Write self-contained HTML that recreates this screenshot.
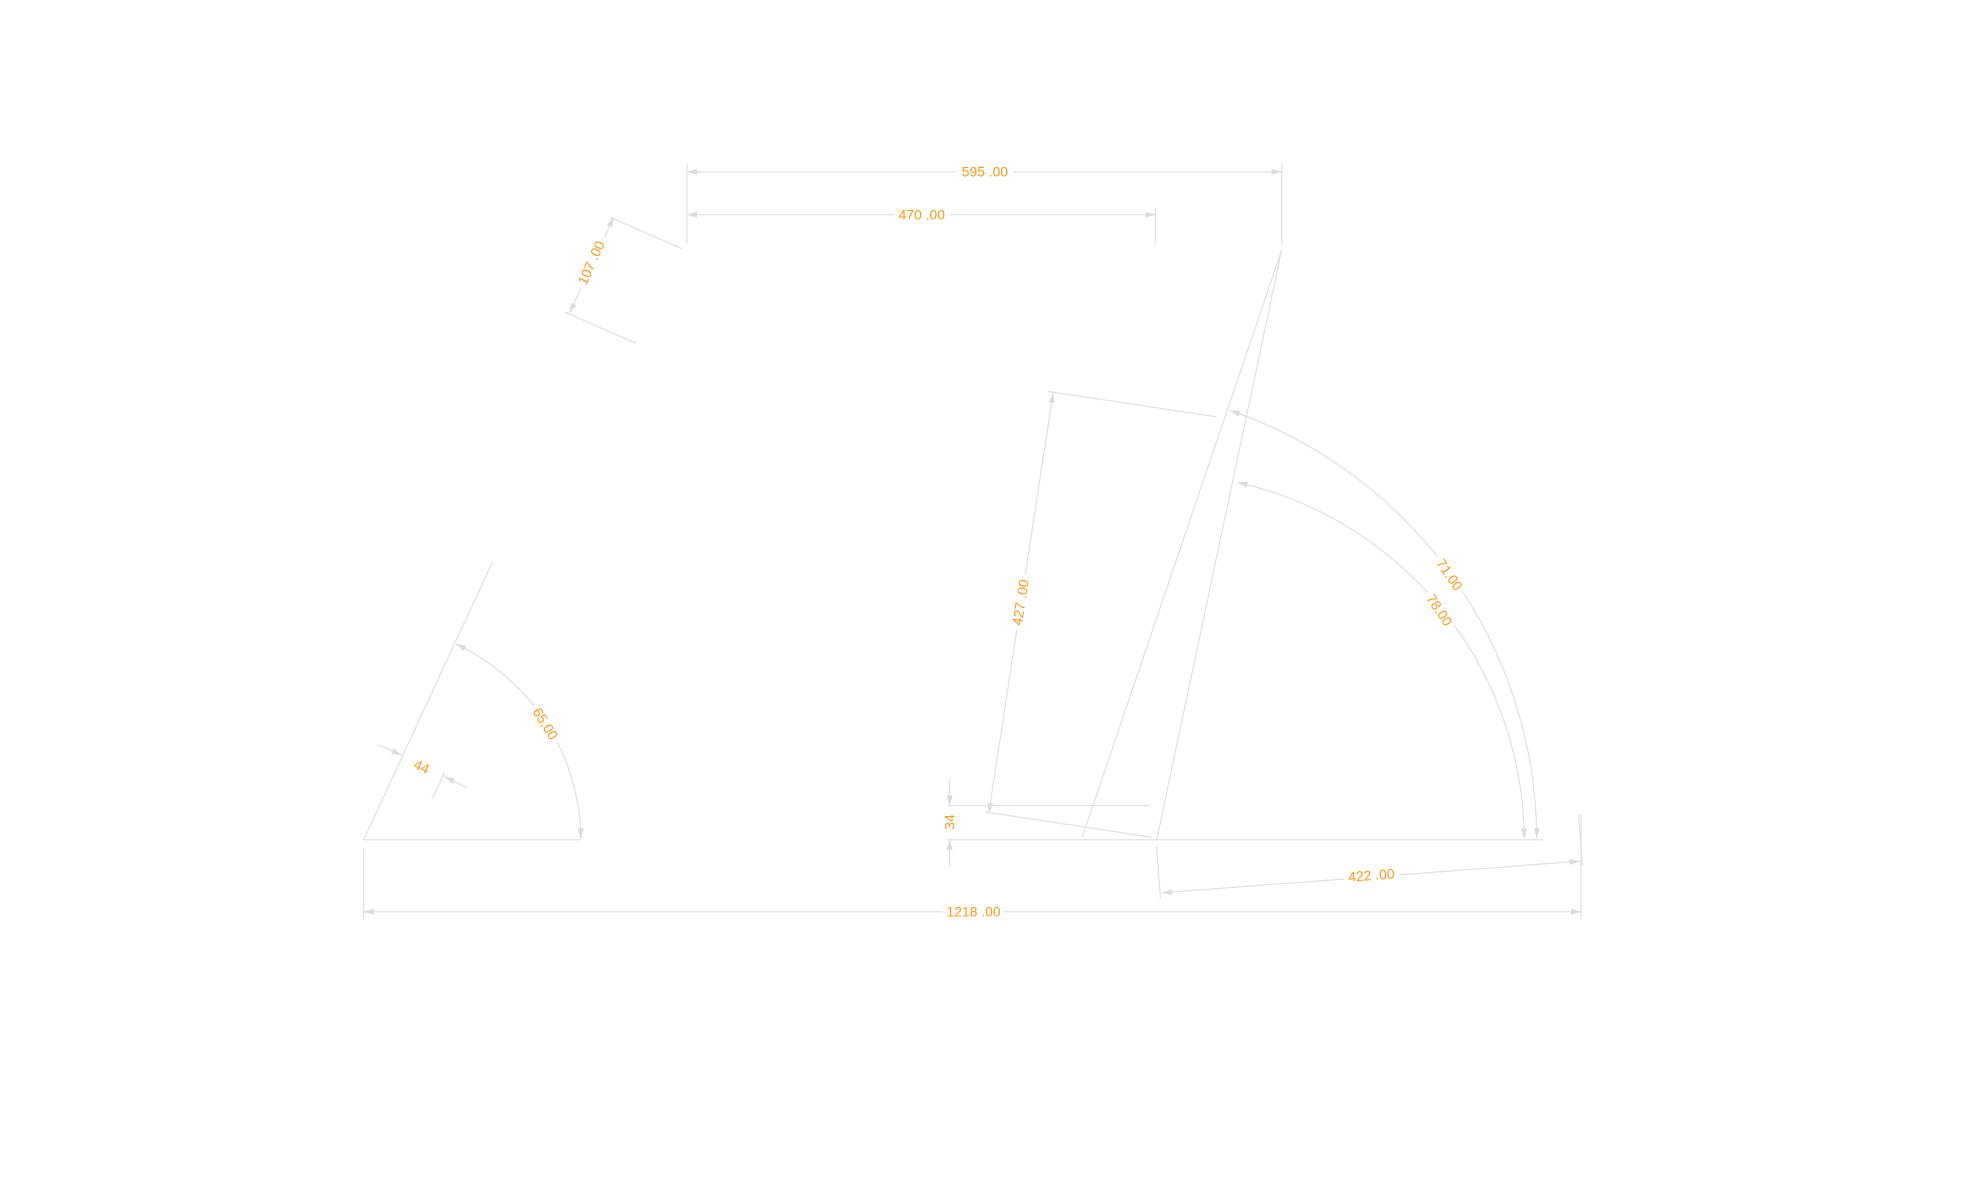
<!DOCTYPE html>
<html><head><meta charset="utf-8"><style>
html,body{margin:0;padding:0;background:#fff;width:1980px;height:1200px;overflow:hidden}
svg{display:block}
text{font-family:"Liberation Sans",sans-serif;font-size:11px;fill:#ff9a1a;text-anchor:middle;dominant-baseline:central}
.l{stroke:#e2e2e2;stroke-width:1;fill:none}
.bg{fill:#fff}
</style></head><body>
<svg width="1980" height="1200" viewBox="0 0 1568 950.3" preserveAspectRatio="none">
<defs>
<marker id="a" viewBox="0 0 10 6" refX="10" refY="3" markerWidth="8" markerHeight="5" orient="auto" markerUnits="userSpaceOnUse"><path d="M0,0L10,3L0,6z" fill="#dcdcdc"/></marker>
<marker id="s" viewBox="0 0 10 6" refX="0" refY="3" markerWidth="8" markerHeight="5" orient="auto" markerUnits="userSpaceOnUse"><path d="M10,0L0,3L10,6z" fill="#dcdcdc"/></marker>
</defs>
<!-- ground -->
<line class="l" x1="288" y1="665" x2="460" y2="665"/>
<line class="l" x1="750" y1="665" x2="1222" y2="665"/>
<!-- left -->
<line class="l" x1="288" y1="665" x2="390" y2="445"/>
<path class="l" d="M361,510 A172,172 0 0 1 460,664" marker-start="url(#s)" marker-end="url(#a)"/>
<line class="l" x1="300" y1="590" x2="318" y2="598" marker-end="url(#a)"/>
<line class="l" x1="370" y1="624" x2="352" y2="615" marker-end="url(#a)"/>
<line class="l" x1="342" y1="633" x2="352" y2="612"/>
<!-- 107 -->
<line class="l" x1="483" y1="172" x2="540" y2="197"/>
<line class="l" x1="447" y1="247" x2="504" y2="272"/>
<line class="l" x1="486" y1="172" x2="451" y2="248" marker-start="url(#s)" marker-end="url(#a)"/>
<!-- top dims -->
<line class="l" x1="544" y1="130" x2="544" y2="193"/>
<line class="l" x1="1015" y1="130" x2="1015" y2="193"/>
<line class="l" x1="915" y1="165" x2="915" y2="193"/>
<line class="l" x1="544" y1="136" x2="1015" y2="136" marker-start="url(#s)" marker-end="url(#a)"/>
<line class="l" x1="544" y1="170" x2="915" y2="170" marker-start="url(#s)" marker-end="url(#a)"/>
<!-- fork -->
<line class="l" x1="1015" y1="198" x2="857" y2="663"/>
<line class="l" x1="1015" y1="198" x2="916" y2="665"/>
<!-- 427 -->
<line class="l" x1="830" y1="310" x2="963" y2="330"/>
<line class="l" x1="780" y1="643" x2="912" y2="663"/>
<line class="l" x1="834" y1="311" x2="783" y2="644" marker-start="url(#s)" marker-end="url(#a)"/>
<!-- 34 -->
<line class="l" x1="750" y1="638" x2="910" y2="638"/>
<line class="l" x1="752" y1="617" x2="752" y2="638" marker-end="url(#a)"/>
<line class="l" x1="752" y1="686" x2="752" y2="665" marker-end="url(#a)"/>
<!-- arcs -->
<path class="l" d="M974,325 A360,360 0 0 1 1217,664" marker-start="url(#s)" marker-end="url(#a)"/>
<path class="l" d="M980,382 A291,291 0 0 1 1207,664" marker-start="url(#s)" marker-end="url(#a)"/>
<!-- 422 -->
<line class="l" x1="916" y1="670" x2="919" y2="712"/>
<line class="l" x1="1250" y1="645" x2="1253" y2="685"/>
<line class="l" x1="920" y1="707" x2="1251" y2="682" marker-start="url(#s)" marker-end="url(#a)"/>
<!-- 1218 -->
<line class="l" x1="288" y1="672" x2="288" y2="728"/>
<line class="l" x1="1252" y1="645" x2="1252" y2="728"/>
<line class="l" x1="288" y1="722" x2="1252" y2="722" marker-start="url(#s)" marker-end="url(#a)"/>
<!-- labels -->
<g>
<rect class="bg" x="758" y="129" width="44" height="14"/><text x="780" y="136">595 .00</text>
<rect class="bg" x="708" y="163" width="44" height="14"/><text x="730" y="170">470 .00</text>
<rect class="bg" x="747" y="715" width="48" height="14"/><text x="771" y="722">1218 .00</text>
<g transform="translate(468,208) rotate(-66)"><rect class="bg" x="-22" y="-7" width="44" height="14"/><text>107 .00</text></g>
<g transform="translate(808,477) rotate(-81)"><rect class="bg" x="-22" y="-7" width="44" height="14"/><text>427 .00</text></g>
<g transform="translate(752,651) rotate(-90)"><rect class="bg" x="-9" y="-7" width="18" height="14"/><text>34</text></g>
<g transform="translate(1086,693) rotate(-4)"><rect class="bg" x="-22" y="-7" width="44" height="14"/><text>422 .00</text></g>
<g transform="translate(1148,455) rotate(56)"><rect class="bg" x="-17" y="-7" width="34" height="14"/><text>71.00</text></g>
<g transform="translate(1140,483) rotate(56)"><rect class="bg" x="-17" y="-7" width="34" height="14"/><text>78.00</text></g>
<g transform="translate(432,573) rotate(58)"><rect class="bg" x="-17" y="-7" width="34" height="14"/><text>65.00</text></g>
<g transform="translate(334,607) rotate(25)"><rect class="bg" x="-8" y="-7" width="16" height="14"/><text>44</text></g>
</g>
</svg>
</body></html>
